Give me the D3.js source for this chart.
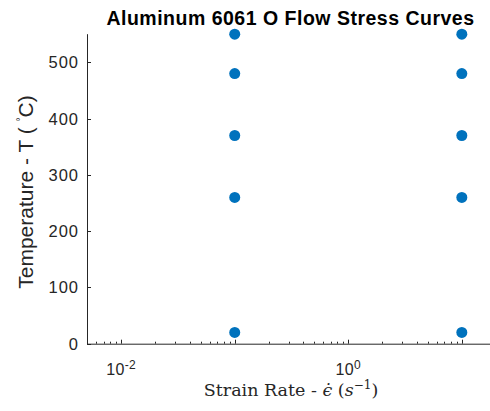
<!DOCTYPE html>
<html>
<head>
<meta charset="utf-8">
<script src="https://cdn.jsdelivr.net/npm/d3@7"></script>
<style>
  body { margin: 0; background: #fff; }
  svg { display: block; }
</style>
</head>
<body>
<div id="chart"></div>
<script>
// strain rate (1/s) and temperature (C) of each test point
const rateValues = [0.1, 0.1, 0.1, 0.1, 0.1, 10, 10, 10, 10, 10];
const tempValues = [20, 260, 370, 480, 550, 20, 260, 370, 480, 550];

// axis ticks
const xMajorTicks = [0.01, 0.1, 1, 10];
const xLabelTicks = [0.01, 1];
const xLabelExp = ['-2', '0'];
const yTicks = [0, 100, 200, 300, 400, 500];

const W = 490, H = 411;
const ink = '#262626';
const sans = '"Liberation Sans", Arial, sans-serif';

const svg = d3.select('#chart').append('svg')
  .attr('width', W)
  .attr('height', H);

const x = d3.scaleLog().domain([0.005, 20]).range([87, 496]);
const y = d3.scaleLinear().domain([0, 550]).range([343.7, 34.2]);

// minor ticks for log axis
const xMinor = [];
[0.001, 0.01, 0.1, 1, 10].forEach(dec => {
  for (let k = 2; k <= 9; k++) {
    const v = dec * k;
    if (v > x.domain()[0] && v < x.domain()[1]) xMinor.push(v);
  }
});

// axes lines
svg.append('line')
  .attr('x1', x.range()[0]).attr('x2', W)
  .attr('y1', y(0) + 0.5).attr('y2', y(0) + 0.5)
  .attr('stroke', ink).attr('stroke-width', 1);
svg.append('line')
  .attr('x1', x.range()[0] + 0.5).attr('x2', x.range()[0] + 0.5)
  .attr('y1', y.range()[1]).attr('y2', y(0) + 1)
  .attr('stroke', ink).attr('stroke-width', 1);

// x ticks (inward)
svg.selectAll('.xmaj').data(xMajorTicks).enter().append('line')
  .attr('x1', d => Math.round(x(d)) + 0.5).attr('x2', d => Math.round(x(d)) + 0.5)
  .attr('y1', y(0)).attr('y2', y(0) - 4)
  .attr('stroke', ink);
svg.selectAll('.xmin').data(xMinor).enter().append('line')
  .attr('x1', d => Math.round(x(d)) + 0.5).attr('x2', d => Math.round(x(d)) + 0.5)
  .attr('y1', y(0)).attr('y2', y(0) - 2)
  .attr('stroke', ink);

// x tick labels 10^n
const xl = svg.selectAll('.xlab').data(xLabelTicks).enter().append('text')
  .attr('x', d => x(d))
  .attr('y', 375)
  .attr('text-anchor', 'middle')
  .attr('font-family', sans)
  .attr('font-size', 16)
  .attr('letter-spacing', 0.3)
  .attr('fill', ink);
xl.append('tspan').text('10');
xl.append('tspan')
  .attr('dy', -6.5)
  .attr('font-size', 12)
  .text((d, i) => xLabelExp[i]);

// y ticks (inward)
svg.selectAll('.ytick').data(yTicks).enter().append('line')
  .attr('x1', x.range()[0]).attr('x2', x.range()[0] + 4)
  .attr('y1', d => Math.round(y(d)) + 0.5).attr('y2', d => Math.round(y(d)) + 0.5)
  .attr('stroke', ink);
svg.selectAll('.ylab').data(yTicks).enter().append('text')
  .attr('x', 79)
  .attr('y', d => y(d) + 6)
  .attr('text-anchor', 'end')
  .attr('font-family', sans)
  .attr('font-size', 16.5)
  .attr('letter-spacing', 1)
  .attr('fill', ink)
  .text(d => d);

// points
svg.selectAll('.pt').data(rateValues).enter().append('circle')
  .attr('cx', d => x(d))
  .attr('cy', (d, i) => y(tempValues[i]))
  .attr('r', 5.5)
  .attr('fill', '#0072BD');

// title
svg.append('text')
  .attr('x', 290.5)
  .attr('y', 24.5)
  .attr('text-anchor', 'middle')
  .attr('font-family', sans)
  .attr('font-weight', 'bold')
  .attr('font-size', 19.5)
  .attr('letter-spacing', 0.5)
  .attr('fill', '#000')
  .text('Aluminum 6061 O Flow Stress Curves');

// y label
const yl = svg.append('text')
  .attr('transform', 'translate(33,192) rotate(-90)')
  .attr('text-anchor', 'middle')
  .attr('font-family', sans)
  .attr('font-size', 21)
  .attr('fill', ink);
yl.append('tspan').text('Temperature - T ( ');
yl.append('tspan').attr('font-size', 10).attr('dy', -9).text('\u00B0');
yl.append('tspan').attr('dy', 9).text('C)');

// x label (latex style)
const xlab = svg.append('text')
  .attr('x', 291)
  .attr('y', 396)
  .attr('text-anchor', 'middle')
  .attr('font-family', '"DejaVu Serif", serif')
  .attr('font-size', 17.5)
  .attr('fill', ink);
xlab.append('tspan').text('Strain Rate - ');
xlab.append('tspan').attr('font-style', 'italic').text('\u03F5\u0307');
xlab.append('tspan').text(' (');
xlab.append('tspan').attr('font-style', 'italic').text('s');
xlab.append('tspan').attr('dy', -7).attr('font-size', 12).text('\u22121');
xlab.append('tspan').attr('dy', 7).text(')');
</script>
</body>
</html>
